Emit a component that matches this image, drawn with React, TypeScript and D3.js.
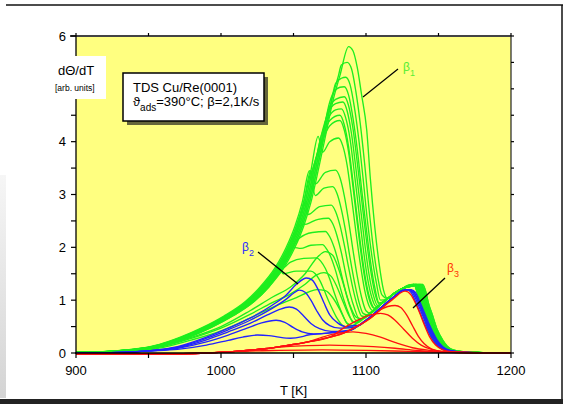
import React from "react";
import * as d3 from "d3";

type P = [number, number];

// ---------- data (T in K, dΘ/dT in arb. units) ----------
const xTicks = [900, 1000, 1100, 1200];
const xMinor = [950, 1050, 1150];
const yTicks = [0, 1, 2, 3, 4, 5, 6];
const yLabels = ["0", "1", "2", "3", "4", "", "6"]; // "5" is hidden behind the axis-title box
const yMinor = [0.5, 1.5, 2.5, 3.5, 4.5, 5.5];

// common leading edge of the β1 (green) spectra
const greenLead: P[] = [[900, 0.01], [925, 0.03], [945, 0.08], [960, 0.16], [975, 0.3], [990, 0.48], [1005, 0.7], [1020, 0.98], [1030, 1.25], [1040, 1.6], [1048, 2.0], [1054, 2.4], [1059, 2.85], [1064, 3.45], [1069, 4.1], [1074, 4.75], [1079, 5.25], [1084, 5.62]];
// rising part of the β3 state under the green spectra
const greenB3Rise: P[] = [[1085, 0.42], [1090, 0.5], [1095, 0.6], [1100, 0.7], [1105, 0.8], [1110, 0.92], [1115, 1.03], [1120, 1.14], [1125, 1.22]];
// top and falling edge of the β3 state under the green spectra
const greenB3Fall: P[] = [[1129, 1.28], [1133, 1.3], [1135, 1.18], [1137, 0.95], [1140, 0.7], [1143, 0.45], [1147, 0.24], [1150, 0.13], [1154, 0.06], [1161, 0.025], [1175, 0.008], [1200, 0.0]];

// β1 spectra: own points (after leaving the common edge)
const greenOwn: P[][] = [
  [[1088, 5.8], [1091, 5.72], [1094, 5.4], [1097, 4.88], [1100.5, 4.22], [1103, 3.3], [1106, 2.4], [1109, 1.7], [1112, 1.2]],
  [[1083, 5.45], [1087, 5.5], [1090, 5.38], [1093, 4.95], [1096, 4.35], [1099, 3.6], [1102, 2.75], [1105, 2.0], [1108, 1.45], [1111, 1.1]],
  [[1079, 5.1], [1083, 5.2], [1086, 5.22], [1089, 5.08], [1092, 4.65], [1095, 4.05], [1098, 3.3], [1101, 2.5], [1104, 1.85], [1107, 1.35], [1110, 1.0]],
  [[1078, 4.95], [1082, 5.03], [1085, 5.04], [1088, 4.88], [1091, 4.45], [1094, 3.85], [1097, 3.1], [1100, 2.4], [1103, 1.75], [1106, 1.25], [1109, 0.95]],
  [[1074, 4.6], [1079, 4.8], [1085, 4.85], [1088, 4.68], [1091, 4.25], [1094, 3.6], [1097, 2.9], [1100, 2.2], [1103, 1.6], [1106, 1.15], [1109, 0.93]],
  [[1074, 4.55], [1079, 4.72], [1084, 4.75], [1087, 4.58], [1090, 4.15], [1093, 3.5], [1096, 2.8], [1099, 2.1], [1102, 1.5], [1105, 1.1], [1108, 0.9]],
  [[1074, 4.45], [1079, 4.6], [1083, 4.62], [1086, 4.45], [1089, 4.05], [1092, 3.4], [1095, 2.7], [1098, 2.0], [1101, 1.42], [1104, 1.05], [1107, 0.88]],
  [[1069, 4.0], [1075, 4.4], [1082, 4.5], [1085, 4.32], [1088, 3.9], [1091, 3.25], [1094, 2.55], [1097, 1.9], [1100, 1.35], [1103, 1.0], [1106, 0.85]],
  [[1069, 3.95], [1075, 4.3], [1082, 4.4], [1085, 4.22], [1088, 3.8], [1091, 3.15], [1094, 2.45], [1097, 1.8], [1100, 1.28], [1103, 0.95], [1106, 0.84]],
  [[1070, 3.8], [1075, 4.0], [1081, 4.07], [1084, 3.92], [1087, 3.55], [1090, 2.95], [1093, 2.3], [1096, 1.7], [1099, 1.2], [1102, 0.9], [1105, 0.8]],
  [[1065, 3.2], [1072, 3.42], [1079, 3.46], [1082, 3.32], [1085, 2.98], [1088, 2.5], [1091, 1.95], [1094, 1.45], [1097, 1.05], [1100, 0.8], [1103, 0.75]],
  [[1065, 2.98], [1071, 3.12], [1077, 3.15], [1080, 3.02], [1083, 2.72], [1086, 2.3], [1089, 1.8], [1092, 1.35], [1095, 0.98], [1098, 0.75], [1101, 0.72]],
  [[1060, 2.62], [1068, 2.77], [1076, 2.8], [1079, 2.68], [1082, 2.42], [1085, 2.05], [1088, 1.62], [1091, 1.22], [1094, 0.9], [1097, 0.7], [1100, 0.69]],
  [[1060, 2.45], [1067, 2.53], [1074, 2.55], [1077, 2.45], [1080, 2.22], [1083, 1.9], [1086, 1.5], [1089, 1.13], [1092, 0.85], [1095, 0.66], [1098, 0.65]],
  [[1054, 2.17], [1063, 2.28], [1072, 2.3], [1075, 2.2], [1078, 2.0], [1081, 1.72], [1084, 1.38], [1087, 1.05], [1090, 0.8], [1093, 0.62], [1096, 0.61]],
  [[1055, 1.98], [1062, 2.04], [1070, 2.05], [1073, 1.96], [1076, 1.8], [1079, 1.56], [1082, 1.26], [1085, 0.98], [1088, 0.75], [1091, 0.58], [1094, 0.57]],
  [[1048, 1.72], [1057, 1.79], [1066, 1.8], [1069, 1.73], [1072, 1.6], [1075, 1.4], [1078, 1.15], [1081, 0.92], [1084, 0.72], [1087, 0.56], [1091, 0.52]],
  [[1043, 1.5], [1052, 1.55], [1062, 1.55], [1065, 1.5], [1068, 1.38], [1071, 1.2], [1074, 1.0], [1077, 0.82], [1080, 0.66], [1084, 0.52], [1088, 0.48]],
  [[900, 0.0], [950, 0.08], [980, 0.3], [1000, 0.5], [1020, 0.8], [1035, 1.05], [1048, 1.25], [1058, 1.5], [1066, 1.8], [1072, 1.92], [1077, 1.85], [1081, 1.6], [1085, 1.25], [1089, 0.9], [1093, 0.68], [1097, 0.64]],
  [[900, 0.0], [950, 0.07], [980, 0.28], [1000, 0.47], [1020, 0.73], [1035, 0.95], [1048, 1.12], [1058, 1.3], [1066, 1.48], [1071, 1.52], [1076, 1.45], [1080, 1.25], [1084, 0.98], [1088, 0.72], [1092, 0.58]],
  [[900, 0.0], [950, 0.06], [980, 0.25], [1000, 0.42], [1020, 0.66], [1040, 0.92], [1052, 1.05], [1060, 1.15], [1066, 1.2], [1072, 1.18], [1077, 1.05], [1082, 0.82], [1086, 0.6], [1090, 0.5]],
];
// temperature offsets (K) of each β1 spectrum's leading edge and β3 tail
const greenLeadShift = [3, 2, 2, 1, 1, 0, 0, -1, -1, -2, -2, -3, -1, 0, 1, 2, 3, 0, 0, 0, 0];
const greenShift = [6, 6, 5, 5, 5, 4, 4, 4, 3, 3, 3, 2, 2, 2, 1, 1, 1, 0, 1, 0, 0];

// β2 (blue) spectra
const blueBase: P[] = [[900, 0.0], [930, 0.01], [950, 0.04]];
const blueOwn: P[][] = [
  [[970, 0.12], [990, 0.3], [1005, 0.47], [1020, 0.66], [1035, 0.9], [1045, 1.1], [1052, 1.3], [1059, 1.42], [1063, 1.38], [1067, 1.2], [1071, 0.95], [1075, 0.72], [1080, 0.58], [1086, 0.5], [1092, 0.52]],
  [[970, 0.11], [990, 0.28], [1005, 0.44], [1020, 0.62], [1035, 0.84], [1045, 1.02], [1050, 1.13], [1054, 1.19], [1058, 1.15], [1062, 1.0], [1066, 0.8], [1070, 0.63], [1075, 0.52], [1082, 0.47], [1090, 0.48]],
  [[970, 0.1], [990, 0.25], [1005, 0.4], [1020, 0.56], [1032, 0.72], [1040, 0.82], [1047, 0.87], [1052, 0.83], [1057, 0.7], [1062, 0.56], [1068, 0.46], [1076, 0.41], [1085, 0.42]],
  [[970, 0.09], [990, 0.21], [1005, 0.34], [1018, 0.47], [1028, 0.57], [1038, 0.62], [1044, 0.58], [1050, 0.48], [1056, 0.4], [1064, 0.36], [1072, 0.37]],
  [[970, 0.07], [990, 0.15], [1005, 0.24], [1015, 0.3], [1025, 0.34], [1033, 0.33], [1040, 0.3], [1048, 0.28], [1056, 0.31]],
];
const blueB3Rise: P[] = [[1060, 0.34], [1075, 0.38], [1089, 0.43], [1095, 0.52], [1100, 0.62], [1105, 0.73], [1110, 0.85], [1115, 0.97], [1120, 1.08], [1125, 1.18]];
const blueB3Fall: P[] = [[1128, 1.2], [1131, 1.15], [1134, 0.98], [1137, 0.78], [1140, 0.58], [1143, 0.4], [1146, 0.25], [1150, 0.12], [1155, 0.05], [1162, 0.02], [1175, 0.005], [1200, 0.0]];
const blueShift = [3, 2, 2, 1, 0];

// β3 (red) spectra
const redLead: P[] = [[900, -0.02], [960, -0.02], [990, 0.0], [1010, 0.03], [1030, 0.08], [1045, 0.14], [1060, 0.21], [1075, 0.3], [1085, 0.38], [1092, 0.48], [1100, 0.6], [1105, 0.7], [1110, 0.82], [1115, 0.94], [1120, 1.05], [1124, 1.14]];
const redOwn: P[][] = [
  [[1127, 1.17], [1131, 1.1], [1134, 0.95], [1137, 0.76], [1140, 0.55], [1144, 0.3], [1148, 0.15], [1153, 0.06], [1160, 0.02], [1175, 0.005], [1200, 0.0]],
  [[1115, 0.88], [1120, 0.9], [1124, 0.86], [1128, 0.72], [1132, 0.52], [1136, 0.32], [1140, 0.18], [1145, 0.08], [1152, 0.03], [1165, 0.01], [1200, 0.0]],
  [[1085, 0.48], [1095, 0.63], [1103, 0.72], [1110, 0.75], [1115, 0.72], [1120, 0.62], [1126, 0.45], [1132, 0.28], [1138, 0.15], [1145, 0.07], [1155, 0.02], [1200, 0.0]],
  [[1070, 0.3], [1080, 0.37], [1091, 0.4], [1100, 0.37], [1110, 0.3], [1121, 0.19], [1132, 0.1], [1144, 0.05], [1160, 0.015], [1200, 0.0]],
  [[1045, 0.12], [1060, 0.14], [1075, 0.15], [1090, 0.14], [1105, 0.12], [1120, 0.09], [1135, 0.05], [1150, 0.02], [1170, 0.005], [1200, 0.0]],
  [[1010, 0.03], [1040, 0.05], [1070, 0.06], [1100, 0.05], [1130, 0.03], [1160, 0.01], [1200, 0.0]],
];

// ---------- layout ----------
const W = 563, H = 404;
const x = d3.scaleLinear().domain([900, 1200]).range([76, 511]);
const y = d3.scaleLinear().domain([0, 6]).range([353, 36]);
const FONT = "'Liberation Sans', Arial, Helvetica, sans-serif";

const line = d3.line<P>().x(d => x(d[0])).y(d => y(d[1])).curve(d3.curveMonotoneX);

function shifted(pts: P[], s: number): P[] {
  const out: P[] = pts.map(([t, v]) => [t + s, v] as P).filter(p => p[0] < 1200);
  out.push([1200, 0]);
  return out;
}

function buildGreen(own: P[], s: number, ls: number): P[] {
  const first = own[0][0];
  const last = own[own.length - 1][0];
  const lead = greenLead
    .map(([t, v]) => [t === 900 ? 900 : t + ls, v] as P)
    .filter(p => p[0] < first - 1);
  const rise = greenB3Rise.filter(p => p[0] > last + 2);
  const fall = shifted(greenB3Fall, s);
  return [...lead, ...own, ...rise, ...fall];
}

function buildBlue(own: P[], s: number): P[] {
  const last = own[own.length - 1][0];
  const rise = blueB3Rise.filter(p => p[0] > last + 2);
  return [...blueBase, ...own, ...rise, ...shifted(blueB3Fall, s)];
}

function buildRed(own: P[]): P[] {
  const first = own[0][0];
  return [...redLead.filter(p => p[0] < first - 1), ...own];
}

export default function App() {
  const greens = greenOwn.map((o, i) => buildGreen(o, greenShift[i], greenLeadShift[i]));
  const blues = blueOwn.map((o, i) => buildBlue(o, blueShift[i]));
  const reds = redOwn.map(o => buildRed(o));
  const [x0, x1] = x.range();
  const [y0, y1] = y.range();

  return (
    <svg width={W} height={H} style={{ position: "absolute", left: 0, top: 0, background: "#fff" }} fontFamily={FONT}>
      <defs>
        <linearGradient id="lstrip" x1="0" y1="0" x2="0" y2="1">
          <stop offset="0" stopColor="#f6f6f6" />
          <stop offset="1" stopColor="#d4d4d4" />
        </linearGradient>
      </defs>
      {/* slide frame */}
      <rect x={0} y={175} width={6} height={223} fill="url(#lstrip)" />
      <line x1={6} x2={563} y1={5} y2={5} stroke="#111" strokeWidth={1.5} />
      <line x1={562} x2={562} y1={5} y2={400} stroke="#111" strokeWidth={1.5} />
      <rect x={0} y={399} width={563} height={5} fill="#222" />

      {/* plot area */}
      <rect x={x0} y={y1} width={x1 - x0} height={y0 - y1} fill="#ffff80" />

      <g fill="none" strokeWidth={1.35} strokeLinejoin="round">
        {greens.map((d, i) => <path key={"g" + i} d={line(d) || ""} stroke="#1eee1e" />)}
        {blues.map((d, i) => <path key={"b" + i} d={line(d) || ""} stroke="#2222ff" />)}
        {reds.map((d, i) => <path key={"r" + i} d={line(d) || ""} stroke="#ff1010" />)}
      </g>

      {/* axes frame */}
      <line x1={70} x2={x1} y1={y1} y2={y1} stroke="#444" strokeWidth={2} />
      <line x1={x1} x2={x1} y1={y1} y2={y0} stroke="#222" strokeWidth={1.2} />
      <line x1={x0} x2={x0} y1={y1} y2={y0 + 1} stroke="#000" strokeWidth={1.3} />
      <line x1={x0 - 1} x2={x1} y1={y0} y2={y0} stroke="#000" strokeWidth={1.3} />

      {/* x ticks */}
      {[...xTicks, ...xMinor].map(t => (
        <g key={"xt" + t}>
          <line x1={x(t)} x2={x(t)} y1={y0} y2={y0 + 5} stroke="#000" strokeWidth={1.2} />
          <line x1={x(t)} x2={x(t)} y1={y1 - 3} y2={y1} stroke="#000" strokeWidth={1.2} />
        </g>
      ))}
      {xTicks.map(t => (
        <text key={"xl" + t} x={x(t)} y={375} fontSize={13} textAnchor="middle" fill="#000">{t}</text>
      ))}
      {/* y ticks */}
      {[...yTicks, ...yMinor].map(v => (
        <g key={"yt" + v}>
          <line x1={x0 - 5} x2={x0} y1={y(v)} y2={y(v)} stroke="#000" strokeWidth={1.2} />
          <line x1={x1} x2={x1 + 3} y1={y(v)} y2={y(v)} stroke="#000" strokeWidth={1.2} />
        </g>
      ))}
      {yTicks.map((v, i) => yLabels[i] ? (
        <text key={"yl" + v} x={66} y={y(v) + 4.5} fontSize={13} textAnchor="end" fill="#000">{yLabels[i]}</text>
      ) : null)}

      {/* y axis label */}
      <rect x={53} y={56} width={53} height={43} fill="#fff" />
      <text x={58} y={75} fontSize={13} fill="#000">dΘ/dT</text>
      <text x={55} y={91} fontSize={8.5} fill="#000">[arb. units]</text>

      {/* x axis label */}
      <text x={280} y={395} fontSize={13} fill="#000">T [K]</text>

      {/* annotation box */}
      <rect x={127} y={77} width={141} height={48} fill="#66663a" />
      <rect x={123} y={73} width={141} height={48} fill="#fff" stroke="#000" strokeWidth={1.5} />
      <text x={133} y={92} fontSize={13} fill="#000">TDS Cu/Re(0001)</text>
      <text x={133} y={106} fontSize={13} fill="#000">
        ϑ<tspan fontSize={10} dy={5}>ads</tspan><tspan dy={-5}>=390°C; β=2,1K/s</tspan>
      </text>

      {/* peak labels */}
      <line x1={398} y1={69} x2={363} y2={97} stroke="#000" strokeWidth={1.3} />
      <text x={403} y={71} fontSize={12} fill="#55ee33">β<tspan fontSize={9} dy={5}>1</tspan></text>
      <line x1={258} y1={252} x2={298} y2={284} stroke="#000" strokeWidth={1.3} />
      <text x={242} y={251} fontSize={12} fill="#2a2aff">β<tspan fontSize={9} dy={5}>2</tspan></text>
      <line x1={445} y1={278} x2={413} y2={308} stroke="#000" strokeWidth={1.3} />
      <text x={447} y={272} fontSize={12} fill="#ff3300">β<tspan fontSize={9} dy={5}>3</tspan></text>
    </svg>
  );
}
